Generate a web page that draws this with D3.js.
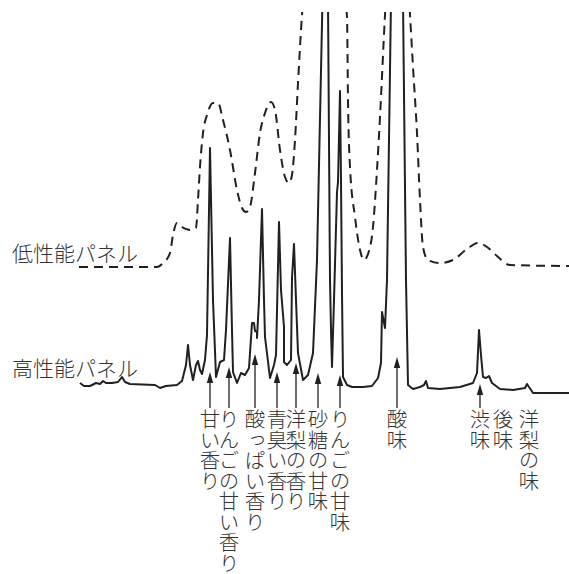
<!DOCTYPE html>
<head>
    <meta charset="utf-8">
    <title>パネル比較</title>
    <script src="https://d3js.org/d3.v7.min.js"></script>
    <style>
        body { margin: 0; background: #fff; }
        text { font-family: "Noto Sans CJK JP", "Noto Sans", sans-serif; font-weight: 300; fill: #333; }
    </style>
</head>
<body>
<div id="home"></div>
<script>
// high performance panel trace (solid)
const highTime = [0.1,0.5,1.1,1.7,2.1,2.4,2.7,3.3,3.9,4.3,4.6,5.1,7.6,8.1,8.4,8.7,9.8,10.3,10.7,10.9,
    11.1,11.4,11.7,11.9,12.1,12.3,12.6,12.8,13.1,13.4,13.7,14.1,14.5,14.7,15.1,15.3,15.4,15.8,16.2,16.6,
    17.0,17.3,17.5,17.6,17.8,17.8,18.0,18.3,18.5,18.6,19.1,19.5,19.7,20.0,20.2,20.5,20.5,20.8,21.2,21.3,
    21.5,21.7,21.9,22.4,22.9,23.4,23.8,24.35,24.9,25.1,25.2,25.3,25.5,25.8,25.9,26.1,26.2,26.3,26.4,26.8,
    27.3,28.4,29.3,29.9,30.2,30.3,30.6,30.8,31.2,32.4,32.7,32.9,33.4,34.1,34.5,34.7,34.9,36.1,38.1,39.4,
    39.8,40.0,40.2,40.4,40.7,41.0,41.3,42.1,43.4,44.6,44.8,45.4,49.0];
const highSignal = [3.6,2.4,2.4,3.6,3.2,4.4,3.6,3.6,4.0,6.0,4.0,3.2,2.8,1.6,2.0,2.4,2.8,4.4,10.8,18.8,
    10.8,4.8,10.8,12.4,8.8,7.2,12.8,22.8,97.6,36.8,6.0,12.0,12.8,24.8,61.6,24.8,8.0,3.6,7.6,6.8,
    9.6,27.6,27.6,24.4,24.0,21.6,36.8,73.2,36.8,22.0,5.6,10.8,14.8,68.0,40.8,26.0,12.0,10.8,12.8,45.6,
    59.2,36.8,15.6,4.8,6.8,15.6,52.8,156.8,156.8,44.8,24.8,10.0,36.8,80.0,84.0,120.4,84.8,39.6,6.0,2.8,
    2.0,2.0,2.4,5.6,11.6,32.0,25.6,44.8,156.8,156.8,44.8,2.8,1.2,2.0,2.8,4.4,1.6,1.2,2.0,3.6,
    7.6,24.8,14.8,6.0,5.6,6.4,3.6,1.2,0.8,1.6,3.2,-0.4,-0.4];

// low performance panel trace (dashed)
const lowTime = [0,7.8,8.4,9.1,9.4,9.8,10.3,11.1,11.7,11.9,12.1,12.4,12.8,13.4,13.9,14.4,15.1,15.8,16.3,16.7,
    17.1,17.6,18.1,18.6,19.2,19.6,20.1,20.6,21.0,21.3,21.6,21.9,22.3,24.6,26.8,26.9,27.1,27.6,28.1,28.5,
    28.9,29.4,29.8,30.1,30.6,31.8,33.1,33.4,33.8,34.1,34.4,34.9,36.1,37.4,38.8,39.9,40.8,41.8,43.1,49.0];
const lowSignal = [-0.4,-0.4,1.2,5.2,12.4,17.2,15.6,14.4,15.2,26.4,39.6,53.2,60.4,65.2,65.2,58.4,46.4,30.4,23.2,21.6,
    23.6,37.2,53.2,61.2,65.6,62.4,46.4,35.6,33.2,36.4,50.4,73.2,100.4,166.4,99.6,66.4,39.6,19.6,6.4,2.4,
    4.8,15.6,38.4,59.6,100.4,166.4,100.4,79.6,53.2,26.4,7.6,2.4,1.2,2.4,6.8,9.2,7.6,4.0,0.4,0];

// annotated peaks
const arrowLabels = ["甘い香り","りんごの甘い香り","酸っぱい香り","青臭い香り","洋梨の香り","砂糖の甘味","りんごの甘味","酸味","渋味"];
const arrowTime = [13.1,15.0,17.6,19.8,21.7,23.9,26.1,31.8,40.1];
const arrowTip = [8.0,10.0,15.2,8.0,11.6,7.6,6.8,14.0,3.2];
const extraLabels = ["後味","洋梨の味"];
const extraTime = [42.4,45.0];

const seriesNames = ["低性能パネル","高性能パネル"];

const w = 569;
const h = 574;

const svg = d3.select("#home")
              .append("svg")
              .attr("width", w)
              .attr("height", h);

svg.append("defs").append("clipPath")
   .attr("id", "clip")
   .append("rect")
   .attr("x", 0).attr("y", 12)
   .attr("width", w).attr("height", h - 12);

const xScale = d3.scaleLinear().domain([0, 49]).range([79, 569]);
const yHigh = d3.scaleLinear().domain([0, 150]).range([392, 17]);
const yLow = d3.scaleLinear().domain([0, 100]).range([266, 16]);

const highData = highTime.map((t, i) => [t, highSignal[i]]);
const lowData = lowTime.map((t, i) => [t, lowSignal[i]]);

const highLine = d3.line()
                   .x(d => xScale(d[0]))
                   .y(d => yHigh(d[1]));
const lowLine = d3.line()
                  .curve(d3.curveMonotoneX)
                  .x(d => xScale(d[0]))
                  .y(d => yLow(d[1]));

const plot = svg.append("g").attr("clip-path", "url(#clip)");

plot.append("path")
    .datum(lowData)
    .attr("d", lowLine)
    .attr("fill", "none")
    .attr("stroke", "#231f20")
    .attr("stroke-width", 2)
    .attr("stroke-dasharray", "9,6");

plot.append("path")
    .datum(highData)
    .attr("d", highLine)
    .attr("fill", "none")
    .attr("stroke", "#231f20")
    .attr("stroke-width", 2)
    .attr("stroke-linejoin", "round");

// series names
svg.append("text")
   .attr("x", 12).attr("y", 261)
   .style("font-size", "21px")
   .text(seriesNames[0]);
svg.append("text")
   .attr("x", 12).attr("y", 376)
   .style("font-size", "21px")
   .text(seriesNames[1]);

// arrows
const arrows = arrowLabels.map((l, i) => ({label: l, t: arrowTime[i], tip: arrowTip[i]}));
const ag = svg.selectAll(".arrow")
              .data(arrows)
              .enter()
              .append("g")
              .attr("class", "arrow");
ag.append("line")
  .attr("x1", d => xScale(d.t)).attr("x2", d => xScale(d.t))
  .attr("y1", d => yHigh(d.tip) + 6).attr("y2", 408)
  .attr("stroke", "#231f20")
  .attr("stroke-width", 1.3);
ag.append("path")
  .attr("d", d => {
      const x = xScale(d.t), y = yHigh(d.tip);
      return "M" + x + "," + y + "L" + (x + 3.2) + "," + (y + 11) + "L" + (x - 3.2) + "," + (y + 11) + "Z";
  })
  .attr("fill", "#231f20");

// vertical labels
const labels = arrows.map(d => ({label: d.label, t: d.t}))
                     .concat(extraLabels.map((l, i) => ({label: l, t: extraTime[i]})));
svg.selectAll(".vlabel")
   .data(labels)
   .enter()
   .append("text")
   .attr("class", "vlabel")
   .attr("x", d => xScale(d.t))
   .attr("y", 409)
   .style("writing-mode", "vertical-rl")
   .style("font-size", "20.5px")
   .text(d => d.label);
</script>
</body>
